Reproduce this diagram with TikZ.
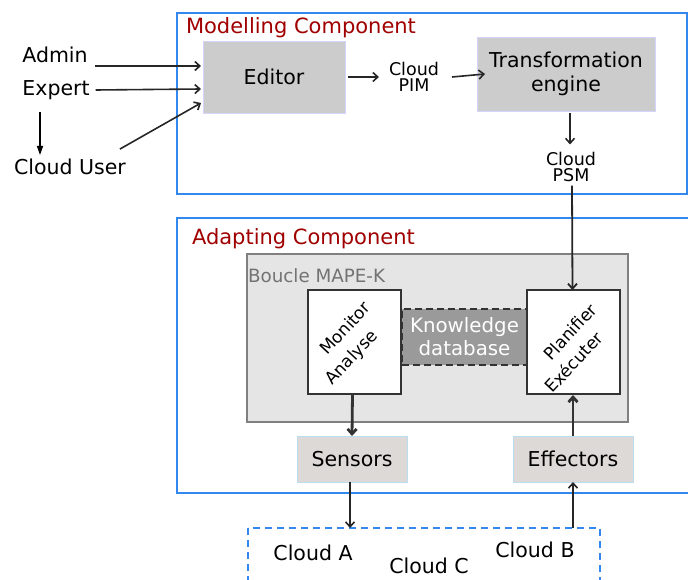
\documentclass[tikz,border=0pt]{standalone}
\usepackage{fontspec}
\setmainfont{DejaVu Sans}
\usetikzlibrary{arrows.meta}
\definecolor{cblue}{HTML}{3388F0}
\definecolor{cred}{HTML}{A00000}
\definecolor{edfill}{HTML}{CCCCCC}
\definecolor{edline}{HTML}{D4D4FF}
\definecolor{sfill}{HTML}{DDD9D6}
\definecolor{sline}{HTML}{BCDDF0}
\definecolor{bfill}{HTML}{E5E5E5}
\definecolor{bline}{HTML}{808080}
\definecolor{kfill}{HTML}{9A9A9A}
\begin{document}
\begin{tikzpicture}[x=1pt,y=-1pt,
  every node/.style={inner sep=0pt,outer sep=0pt},
  txt/.style={font=\fontsize{20.5}{24}\selectfont},
  small/.style={font=\fontsize{17.5}{15.5}\selectfont,align=center},
  ttl/.style={font=\fontsize{21}{24}\selectfont,text=cred,anchor=base west},
  graybox/.style={draw=edline,line width=0.8pt,fill=edfill,font=\fontsize{20.5}{24}\selectfont,align=center},
  sbox/.style={draw=sline,line width=0.8pt,fill=sfill,font=\fontsize{20.5}{24}\selectfont},
  wbox/.style={draw=black!80,line width=1.8pt,fill=white,minimum width=93pt,minimum height=104pt},
  rtxt/.style={font=\fontsize{17}{21}\selectfont,rotate=47},
  comp/.style={draw=cblue,line width=2pt},
  arr/.style={-{Straight Barb[length=5pt,width=9pt]},line width=1.6pt,black!85},
  tarr/.style={-{Straight Barb[length=5pt,width=9pt]},line width=2.8pt,black!80},
  farr/.style={-{Triangle[length=9pt,width=6pt]},line width=1.5pt}]
\useasboundingbox (0,0) rectangle (688,580);
% components
\draw[comp] (177,13) rectangle (687,194);
\draw[comp] (177,218) rectangle (700,493);
\node[ttl] (tmod) at (186,34) {Modelling Component};
\node[ttl] (tadp) at (192,244) {Adapting Component};
% actors
\node[txt] (admin) at (55,55) {Admin};
\node[txt] (expert) at (56,90) {Expert};
\node[txt] (user) at (70,167) {Cloud User};
% modelling
\node[graybox,minimum width=142pt,minimum height=72pt] (editor) at (274,77) {Editor};
\node[small] (pim) at (414,77) {Cloud\\PIM};
\node[graybox,minimum width=178pt,minimum height=74pt] (trans) at (566,74) {Transformation\\engine};
\node[small] (psm) at (571,167) {Cloud\\PSM};
% adapting
\node[draw=bline,line width=1.8pt,fill=bfill,minimum width=381pt,minimum height=168pt] (boucle) at (437.5,338) {};
\node[anchor=base west,font=\fontsize{18.3}{22}\selectfont,text=black!55] (tb) at (248,282) {Boucle MAPE-K};
\node[draw=black!80,dash pattern=on 7pt off 4pt,line width=1.4pt,fill=kfill,minimum width=125pt,minimum height=56pt,text=white,align=center,font=\fontsize{19.8}{23}\selectfont] (know) at (464.5,337) {Knowledge\\database};
\node[wbox] (mon) at (354.5,342) {};
\node[rtxt] (monT1) at ([xshift=-9.5pt,yshift=14pt]mon.center) {Monitor};
\node[rtxt] (monT2) at ([xshift=-2.5pt,yshift=-16pt]mon.center) {Analyse};
\node[wbox] (plan) at (573.5,342) {};
\node[rtxt] (planT1) at ([xshift=-3.5pt,yshift=10pt]plan.center) {Planifier};
\node[rtxt] (planT2) at ([xshift=0pt,yshift=-20pt]plan.center) {Exécuter};
\node[sbox,minimum width=110pt,minimum height=46pt] (sens) at (352,459) {Sensors};
\node[sbox,minimum width=120pt,minimum height=46pt] (eff) at (573,459) {Effectors};
% clouds
\draw[cblue,line width=1.8pt,dash pattern=on 7pt off 5pt] (248,528) rectangle (600,590);
\coordinate (cA) at (350,528);
\coordinate (cB) at (573,528);
\node[txt] (cloudA) at (313,553) {Cloud A};
\node[txt] (cloudC) at (429,566) {Cloud C};
\node[txt] (cloudB) at (535,550) {Cloud B};
% connectors
\draw[arr] ([xshift=7pt,yshift=-11pt]admin.east) -- ([xshift=-2pt,yshift=11pt]editor.west);
\draw[arr] ([xshift=6pt,yshift=0pt]expert.east) -- ([xshift=-2pt,yshift=-12pt]editor.west);
\draw[arr] ([xshift=-6pt,yshift=10pt]user.north east) -- ([xshift=-2pt,yshift=-26pt]editor.west);
\coordinate (e1) at (40,112);
\coordinate (e2) at (40,155);
\draw[farr] (e1) -- (e2);
\draw[arr] ([xshift=3pt]editor.east) -- ([xshift=-10pt]pim.west);
\draw[arr] ([xshift=13pt]pim.east) -- ([xshift=8pt]trans.west);
\draw[arr] ([xshift=4pt,yshift=-2pt]trans.south) -- ([xshift=-1pt,yshift=8pt]psm.north);
\draw[arr,line width=1.8pt] ([xshift=1pt,yshift=-4pt]psm.south) -- ([xshift=-1pt]plan.north);
\draw[tarr] ([xshift=-2pt]mon.south) -- (sens.north);
\draw[tarr] (eff.north) -- ([xshift=-0.5pt,yshift=-1pt]plan.south);
\draw[arr] ([xshift=-2pt]sens.south) -- (cA);
\draw[arr] (cB) -- (eff.south);
\end{tikzpicture}
\end{document}
